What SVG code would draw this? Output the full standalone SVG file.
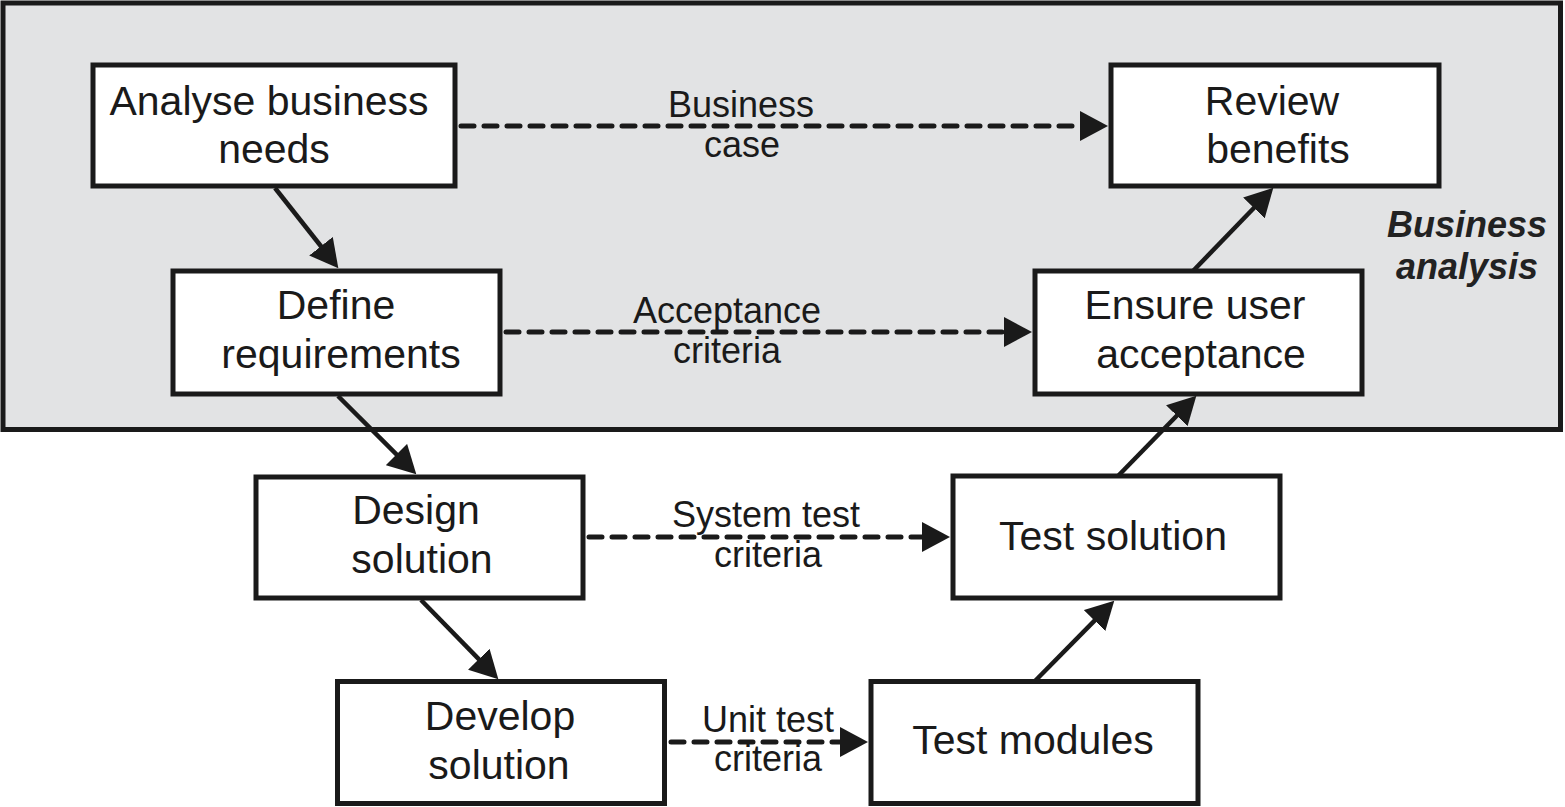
<svg xmlns="http://www.w3.org/2000/svg" width="1565" height="807" viewBox="0 0 1565 807">
<style>
.box{fill:#ffffff;stroke:#1a1a1a;stroke-width:5}
.area{fill:#e2e3e4;stroke:#1a1a1a;stroke-width:5}
.nt{font-family:"Liberation Sans",Arial,sans-serif;font-size:41px;fill:#1a1a1a;text-anchor:middle}
.lt{font-family:"Liberation Sans",Arial,sans-serif;font-size:36px;fill:#1a1a1a;text-anchor:middle}
.bt{font-family:"Liberation Sans",Arial,sans-serif;font-size:36px;font-weight:bold;font-style:italic;fill:#222222;text-anchor:middle}
.solid{fill:none;stroke:#1a1a1a;stroke-width:4.5;marker-end:url(#ah)}
.dash{fill:none;stroke:#1a1a1a;stroke-width:5;stroke-dasharray:13 10;stroke-linecap:round;marker-end:url(#ah)}
</style>
<defs>
<marker id="ah" viewBox="0 0 28 30" markerUnits="userSpaceOnUse" markerWidth="28" markerHeight="30" refX="1" refY="15" orient="auto">
<path d="M0,0 L28,15 L0,30 Z" fill="#1a1a1a"/>
</marker>
</defs>
<g id="business-analysis">
<rect class="area" x="3" y="3" width="1557.5" height="426.5"/>
<text class="bt" x="1467" y="237">Business</text>
<text class="bt" x="1467" y="279">analysis</text>
</g>
<g id="connectors">
<line class="solid" x1="275" y1="188" x2="321.6" y2="247"/>
<line class="solid" x1="338" y1="396" x2="397.2" y2="455.2"/>
<line class="solid" x1="421" y1="600" x2="479.5" y2="659.9"/>
<line class="solid" x1="1035" y1="681" x2="1095.3" y2="619.9"/>
<line class="solid" x1="1118" y1="476" x2="1177.5" y2="415"/>
<line class="solid" x1="1193" y1="271" x2="1254.6" y2="207.2"/>
<line class="dash" x1="461" y1="126" x2="1081" y2="126"/>
<line class="dash" x1="506" y1="332" x2="1005" y2="332"/>
<line class="dash" x1="589" y1="537" x2="923" y2="537"/>
<line class="dash" x1="671" y1="742" x2="841" y2="742"/>
<text class="lt" x="741" y="117">Business</text>
<text class="lt" x="742" y="157">case</text>
<text class="lt" x="727" y="323">Acceptance</text>
<text class="lt" x="727" y="363">criteria</text>
<text class="lt" x="766" y="527">System test</text>
<text class="lt" x="768" y="567">criteria</text>
<text class="lt" x="768" y="732">Unit test</text>
<text class="lt" x="768" y="771">criteria</text>
</g>
<g id="analyse">
<rect class="box" x="93" y="65" width="362" height="121"/>
<text class="nt" x="269" y="115">Analyse business</text>
<text class="nt" x="274" y="163">needs</text>
</g>
<g id="define">
<rect class="box" x="173" y="271" width="327" height="123"/>
<text class="nt" x="336" y="319">Define</text>
<text class="nt" x="341" y="368">requirements</text>
</g>
<g id="design">
<rect class="box" x="256" y="477" width="327" height="121"/>
<text class="nt" x="416" y="524">Design</text>
<text class="nt" x="422" y="573">solution</text>
</g>
<g id="develop">
<rect class="box" x="337.5" y="681.5" width="327" height="122"/>
<text class="nt" x="500" y="730">Develop</text>
<text class="nt" x="499" y="779">solution</text>
</g>
<g id="test-modules">
<rect class="box" x="871" y="681.5" width="327" height="122"/>
<text class="nt" x="1033" y="754">Test modules</text>
</g>
<g id="test-solution">
<rect class="box" x="953" y="476" width="327" height="122"/>
<text class="nt" x="1113" y="550">Test solution</text>
</g>
<g id="ensure">
<rect class="box" x="1035" y="271" width="327" height="123"/>
<text class="nt" x="1195" y="319">Ensure user</text>
<text class="nt" x="1201" y="368">acceptance</text>
</g>
<g id="review">
<rect class="box" x="1111" y="65" width="328" height="121"/>
<text class="nt" x="1272" y="115">Review</text>
<text class="nt" x="1278" y="163">benefits</text>
</g>
</svg>
